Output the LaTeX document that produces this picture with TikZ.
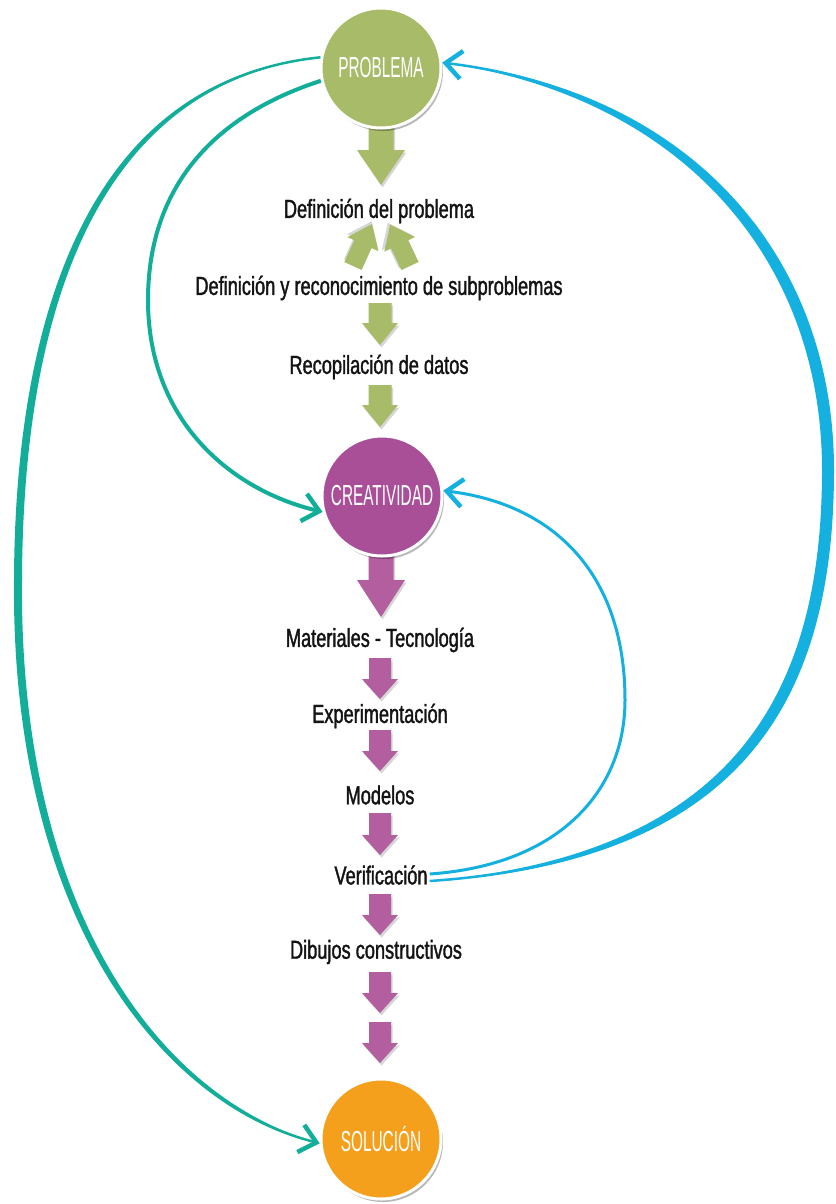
\documentclass[tikz,border=0pt]{standalone}
\usepackage{fontspec}
\setmainfont{Liberation Sans}
\newfontfamily\bodyfont{Liberation Sans}[FakeStretch=0.7,FakeBold=1.4]
\newfontfamily\circfont{Liberation Sans}[FakeStretch=0.53]
\usetikzlibrary{arrows.meta,shadows}
\definecolor{cgreen}{HTML}{A7BB69}
\definecolor{cpurple}{HTML}{A94F98}
\definecolor{cpurplearr}{HTML}{B35E9E}
\definecolor{corange}{HTML}{F5A01C}
\definecolor{cteal}{HTML}{12AE99}
\definecolor{cblue}{HTML}{14B0E0}
\tikzset{
  circ/.style={circle, draw=white, line width=3pt, minimum size=120pt, inner sep=0pt,
    text=white, font=\circfont\fontsize{29}{29}\selectfont,
    drop shadow={shadow xshift=2pt, shadow yshift=-3pt, opacity=0.28, fill=black}},
  lbl/.style={font=\bodyfont\fontsize{26}{26}\selectfont, text=black!92, inner sep=2pt},
  pics/blk/.style args={#1/#2/#3/#4}{code={
    \fill[black, opacity=0.16, xshift=1.5pt, yshift=-2.5pt]
      (-#2,0) -- (#2,0) -- (#2,#1-#4) -- (#3,#1-#4) -- (0,#1) -- (-#3,#1-#4) -- (-#2,#1-#4) -- cycle;
    \fill (-#2,0) -- (#2,0) -- (#2,#1-#4) -- (#3,#1-#4) -- (0,#1) -- (-#3,#1-#4) -- (-#2,#1-#4) -- cycle;
  }},
  tealline/.style={draw=cteal, -{Straight Barb[length=16pt,width=28pt,line width=4.5pt]}},
  blueline/.style={draw=cblue, -{Straight Barb[length=16pt,width=28pt,line width=4.5pt]}},
}
\begin{document}
\begin{tikzpicture}[x=1pt,y=-1pt]
\useasboundingbox (0,0) rectangle (835,1204);
\fill[white] (0,0) rectangle (835,1204);

% block arrows (green)
\pic[fill=cgreen] at (381,122) {blk={63/12.5/24/35}};
\pic[fill=cgreen, rotate=155.6] at (353,266) {blk={46/9.5/17/22}};
\pic[fill=cgreen, rotate=205.5] at (410,266) {blk={46/9.5/17/22}};
\pic[fill=cgreen] at (380,303) {blk={42/11.5/18/22}};
\pic[fill=cgreen] at (380,385) {blk={42/11.5/18/22}};
% block arrows (purple)
\pic[fill=cpurplearr] at (381,552) {blk={65/12.5/24/37}};
\pic[fill=cpurplearr] at (380,658) {blk={41/11/18/20}};
\pic[fill=cpurplearr] at (380,730) {blk={41/11/18/20}};
\pic[fill=cpurplearr] at (380,813) {blk={42/11/18/20}};
\pic[fill=cpurplearr] at (380,894) {blk={41/11/18/20}};
\pic[fill=cpurplearr] at (380,972) {blk={41/11/18/20}};
\pic[fill=cpurplearr] at (380,1022) {blk={41/11/18/20}};

% circles
\node[circ, fill=cgreen] (prob) at (381,68) {PROBLEMA};
\node[circ, fill=cpurple] (crea) at (382,496) {CREATIVIDAD};
\node[circ, fill=corange] (sol) at (381,1139) {SOLUCIÓN};

% labels
\node[lbl] (def) at (379,211) {Definición del problema};
\node[lbl] (sub) at (379,288) {Definición y reconocimiento de subproblemas};
\node[lbl] (rec) at (379,367) {Recopilación de datos};
\node[lbl] (mat) at (380,640) {Materiales - Tecnología};
\node[lbl] (exp) at (380,716) {Experimentación};
\node[lbl] (mod) at (380,795) {Modelos};
\node[lbl] (ver) at (381,875) {Verificación};
\node[lbl] (dib) at (376,952) {Dibujos constructivos};

% teal connectors
\fill[cteal] (prob.170) .. controls (98,77) and (15,300) .. (14,580)
  .. controls (11,900) and (148,1103) .. (sol.184)
  .. controls (152,1097) and (19,900) .. (22,580)
  .. controls (23,300) and (102,83) .. (prob.170) -- cycle;
\draw[tealline, line width=2.5pt] (prob.170) .. controls (100,80) and (19,300) .. (18,580)
  .. controls (15,900) and (150,1100) .. (sol.184);
\draw[tealline, line width=4pt] (prob.192) .. controls (200,120) and (148,200) .. (148,300)
  .. controls (148,420) and (230,490) .. (crea.195);

% blue connectors
\draw[blueline, line width=3pt] ([yshift=1pt]ver.east) .. controls (560,865) and (625,790) .. (625,700)
  .. controls (625,580) and (560,505) .. (crea.5);
\fill[cblue] ([yshift=-6pt]ver.east) .. controls (742,863) and (834,700) .. (834,470)
  .. controls (834,248) and (681,86) .. (prob.5)
  .. controls (677,95) and (822,255) .. (822,470)
  .. controls (822,694) and (734,855) .. ([yshift=-6pt]ver.east) -- cycle;
\draw[blueline, line width=2.5pt] ([yshift=-6pt]ver.east) .. controls (740,860) and (828,700) .. (828,470)
  .. controls (828,252) and (679,91) .. (prob.5);
\end{tikzpicture}
\end{document}
